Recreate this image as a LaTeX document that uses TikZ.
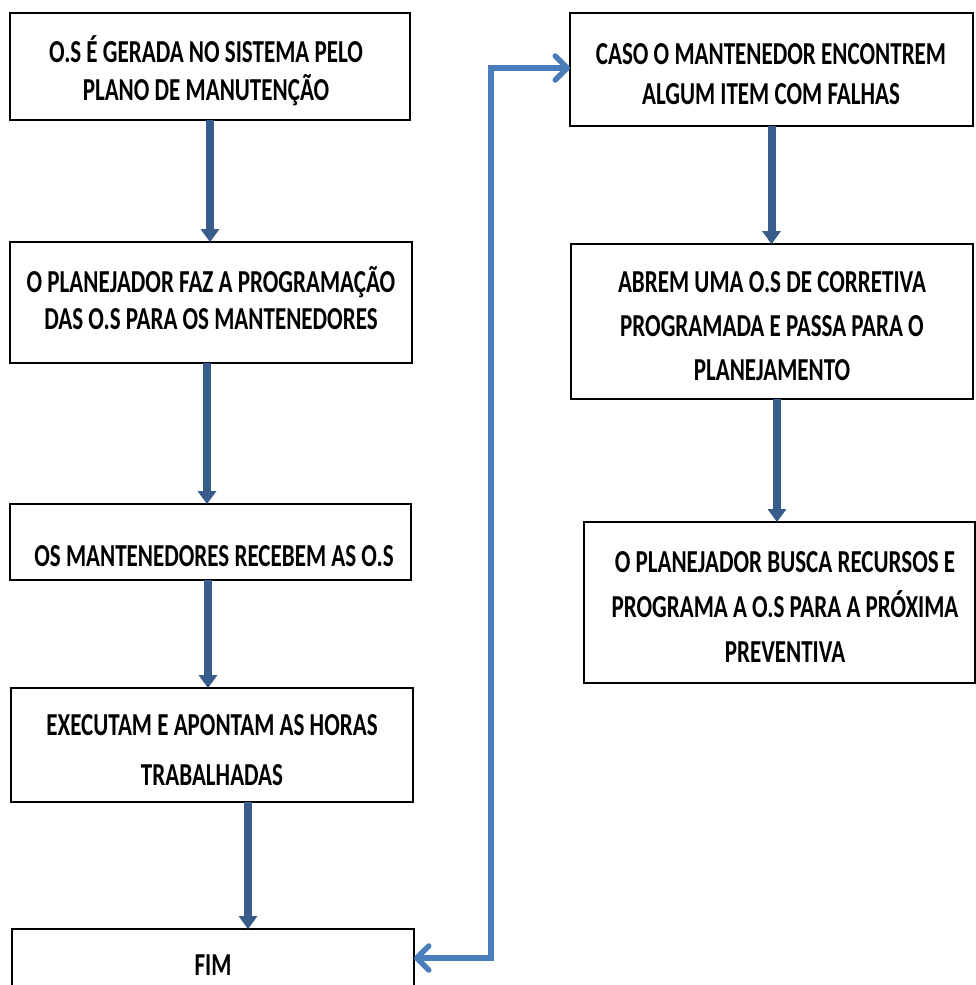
\documentclass[tikz,border=0pt]{standalone}
\usepackage{fontspec}
\newfontfamily\boxfont{Carlito}[FakeStretch=0.72]
\usetikzlibrary{arrows.meta}
\definecolor{flowdark}{HTML}{385D8A}
\definecolor{flowlink}{HTML}{4A7EBB}
% strut at the start of each text line, taller than accented capitals
\newcommand\ls{\rule{0pt}{28pt}}
\begin{document}
\begin{tikzpicture}[x=1pt,y=1pt,
  box/.style={draw=black, line width=2.5pt, rectangle, outer sep=0pt, inner sep=0pt},
  txt/.style={font=\boxfont\bfseries\fontsize{32}{#1}\selectfont, align=center, inner sep=0pt, anchor=north},
  heavy/.style={draw=flowdark, line width=8pt, -{Triangle[width=19pt,length=13pt,line width=0pt]}},
  link/.style={draw=flowlink, line width=5.5pt,
    {Straight Barb[length=12pt,width=24pt,round]}-{Straight Barb[length=12pt,width=24pt,round]}}]
\useasboundingbox (0,0) rectangle (976,-985);
\clip (0,0) rectangle (976,-985);

% left column
\node[box, minimum width=400pt, minimum height=107pt] (b1) at (210,-66.5) {};
\node[box, minimum width=402pt, minimum height=121pt] (b2) at (211,-302.5) {};
\node[box, minimum width=401pt, minimum height=76pt]  (b3) at (210.5,-542) {};
\node[box, minimum width=402pt, minimum height=114pt] (b4) at (212,-745) {};
\node[box, minimum width=402pt, minimum height=71pt]  (b5) at (213,-964.5) {};
% right column
\node[box, minimum width=403pt, minimum height=113pt] (b6) at (771.5,-69.5) {};
\node[box, minimum width=402pt, minimum height=155pt] (b7) at (772,-321.5) {};
\node[box, minimum width=391pt, minimum height=161pt] (b8) at (779.5,-602.5) {};

% texts
\node[txt=38] (t1) at (206,-34.3) {\ls O.S É GERADA NO SISTEMA PELO\\\ls PLANO DE MANUTENÇÃO};
\node[txt=37] (t2) at (211,-264.3) {\ls O PLANEJADOR FAZ A PROGRAMAÇÃO\\\ls DAS O.S PARA OS MANTENEDORES};
\node[txt=40] (t3) at (214,-538.3) {\ls OS MANTENEDORES RECEBEM AS O.S};
\node[txt=50] (t4) at (212,-707.3) {\ls EXECUTAM E APONTAM AS HORAS\\\ls TRABALHADAS};
\node[txt=40] (t5) at (213,-947.3) {\ls FIM};
\node[txt=40] (t6) at (771,-36.3) {\ls CASO O MANTENEDOR ENCONTREM\\\ls ALGUM ITEM COM FALHAS};
\node[txt=44] (t7) at (772,-264.3) {\ls ABREM UMA O.S DE CORRETIVA\\\ls PROGRAMADA E PASSA PARA O\\\ls PLANEJAMENTO};
\node[txt=45] (t8) at (785,-544.3) {\ls O PLANEJADOR BUSCA RECURSOS E\\\ls PROGRAMA A O.S PARA A PRÓXIMA\\\ls PREVENTIVA};

% heavy flow arrows
\draw[heavy] (b1.south) -- (b2.north -| b1.south);
\draw[heavy] ([xshift=-4pt]b2.south) -- ([xshift=-4pt]b2.south |- b3.north);
\draw[heavy] ([xshift=-2.5pt]b3.south) -- ([xshift=-2.5pt]b3.south |- b4.north);
\draw[heavy] ([xshift=36pt]b4.south) -- ([xshift=36pt]b4.south |- b5.north);
\draw[heavy] (b6.south) -- (b7.north -| b6.south);
\draw[heavy] ([xshift=5pt]b7.south) -- ([xshift=5pt]b7.south |- b8.north);

% return link between FIM and the right column
\draw[link] ([yshift=6.5pt]b5.east) -- ++(77,0) |- ([yshift=1.5pt]b6.west);
\end{tikzpicture}
\end{document}
